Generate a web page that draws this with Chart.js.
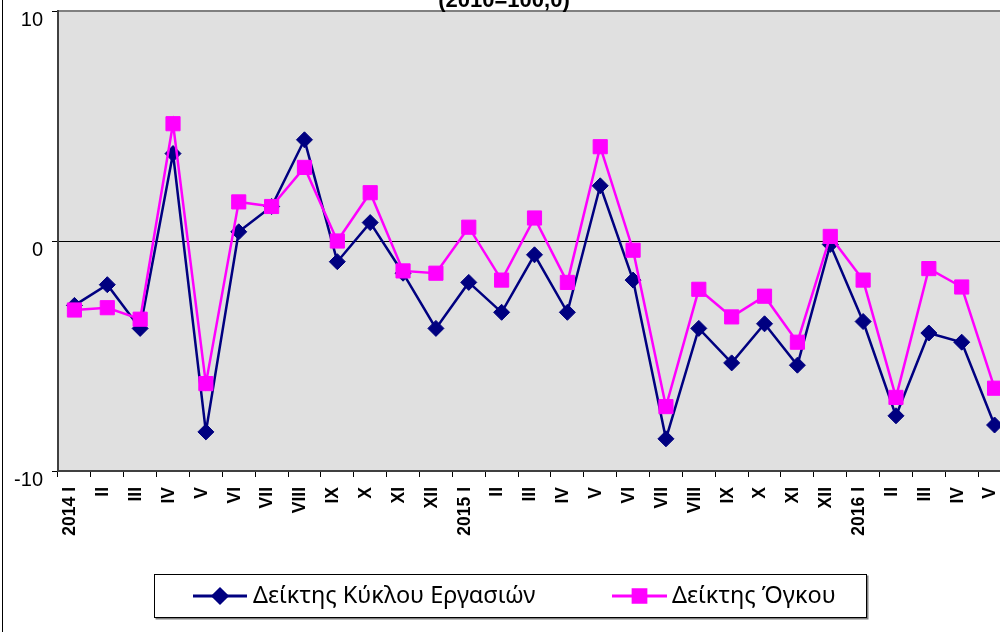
<!DOCTYPE html>
<html>
<head>
<meta charset="utf-8">
<script src="https://cdn.jsdelivr.net/npm/chart.js@4"></script>
<style>
  html, body { margin: 0; padding: 0; background: #fff; overflow: hidden; }
  #wrap { position: absolute; left: 0; top: 0; width: 1022px; height: 632px; }
</style>
</head>
<body>
<div id="wrap"><canvas id="chart" width="1022" height="632"></canvas></div>
<script>
// Month labels (2014 I .. 2016 V)
const months = ['2014 I', 'II', 'III', 'IV', 'V', 'VI', 'VII', 'VIII', 'IX', 'X', 'XI', 'XII',
    '2015 I', 'II', 'III', 'IV', 'V', 'VI', 'VII', 'VIII', 'IX', 'X', 'XI', 'XII',
    '2016 I', 'II', 'III', 'IV', 'V'];

// Δείκτης Κύκλου Εργασιών
const turnover = [-2.8, -1.9, -3.8, 3.8, -8.3, 0.4, 1.5, 4.4, -0.9, 0.8, -1.4, -3.8,
    -1.8, -3.1, -0.6, -3.1, 2.4, -1.7, -8.6, -3.8, -5.3, -3.6, -5.4, -0.15,
    -3.5, -7.6, -4.0, -4.4, -8.0];

// Δείκτης Όγκου
const volume = [-3.0, -2.9, -3.4, 5.1, -6.2, 1.7, 1.5, 3.2, 0.0, 2.1, -1.3, -1.4,
    0.6, -1.7, 1.0, -1.8, 4.1, -0.4, -7.2, -2.1, -3.3, -2.4, -4.4, 0.2,
    -1.7, -6.8, -1.2, -2.0, -6.4];

const yTicks = [-10, 0, 10];
const titleText = '(2010=100,0)';

// Grey plot area, frame and partially visible title
const backdrop = {
    id: 'backdrop',
    beforeDraw(chart) {
        const { ctx, chartArea: a } = chart;
        ctx.save();
        ctx.fillStyle = '#e0e0e0';
        ctx.fillRect(a.left, a.top, a.right - a.left, a.bottom - a.top);
        ctx.strokeStyle = '#808080';
        ctx.lineWidth = 2;
        ctx.beginPath();
        ctx.moveTo(a.left, a.top);
        ctx.lineTo(a.right, a.top);
        ctx.stroke();
        // outer frame line on the left
        ctx.strokeStyle = '#000';
        ctx.lineWidth = 1;
        ctx.beginPath();
        ctx.moveTo(2.5, 0);
        ctx.lineTo(2.5, 632);
        ctx.stroke();
        // title (only its lower part is inside the picture)
        ctx.fillStyle = '#000';
        ctx.font = 'bold 22px "Liberation Sans", Arial, sans-serif';
        ctx.textAlign = 'center';
        ctx.textBaseline = 'alphabetic';
        ctx.fillText(titleText, 504, 7);
        ctx.restore();
    }
};

// Boxed legend with line + marker samples
const boxLegend = {
    id: 'boxLegend',
    afterDraw(chart) {
        const ctx = chart.ctx;
        const box = { x: 154.5, y: 574.5, w: 712, h: 43 };
        ctx.save();
        ctx.fillStyle = '#808080';
        ctx.fillRect(box.x + 1, box.y + 1, box.w + 1, box.h + 1);
        ctx.fillStyle = '#fff';
        ctx.fillRect(box.x, box.y, box.w, box.h);
        ctx.strokeStyle = '#000';
        ctx.lineWidth = 1;
        ctx.strokeRect(box.x, box.y, box.w, box.h);

        const items = [
            { ds: chart.data.datasets[0], x0: 193, x1: 247, tx: 253 },
            { ds: chart.data.datasets[1], x0: 612, x1: 667, tx: 672 }
        ];
        const cy = 596;
        items.forEach(it => {
            ctx.strokeStyle = it.ds.borderColor;
            ctx.lineWidth = 3;
            ctx.beginPath();
            ctx.moveTo(it.x0, cy);
            ctx.lineTo(it.x1, cy);
            ctx.stroke();
            ctx.fillStyle = it.ds.pointBackgroundColor;
            ctx.strokeStyle = it.ds.pointBorderColor;
            Chart.helpers.drawPoint(ctx, {
                pointStyle: it.ds.pointStyle,
                radius: it.ds.pointRadius - 1,
                rotation: 0,
                borderWidth: 1
            }, (it.x0 + it.x1) / 2, cy);
            ctx.fillStyle = '#000';
            ctx.font = '23.5px "Noto Sans", "Open Sans", sans-serif';
            ctx.textAlign = 'left';
            ctx.textBaseline = 'middle';
            ctx.fillText(it.ds.label, it.tx, cy);
        });
        ctx.restore();
    }
};

new Chart(document.getElementById('chart'), {
    type: 'line',
    data: {
        labels: months,
        datasets: [{
            label: 'Δείκτης Κύκλου Εργασιών',
            data: turnover,
            borderColor: '#000080',
            borderWidth: 2.5,
            pointStyle: 'rectRot',
            pointRadius: 8,
            pointBackgroundColor: '#000080',
            pointBorderColor: '#000080',
            pointBorderWidth: 1,
            tension: 0,
            order: 1
        }, {
            label: 'Δείκτης Όγκου',
            data: volume,
            borderColor: '#ff00ff',
            borderWidth: 2.5,
            pointStyle: 'rect',
            pointRadius: 10,
            pointBackgroundColor: '#ff00ff',
            pointBorderColor: '#ff00ff',
            pointBorderWidth: 1,
            tension: 0,
            order: 0
        }]
    },
    options: {
        responsive: false,
        animation: false,
        devicePixelRatio: 1,
        layout: { padding: { top: 11, right: 2, left: 0, bottom: 0 } },
        plugins: {
            legend: { display: false },
            tooltip: { enabled: false }
        },
        scales: {
            x: {
                offset: true,
                grid: {
                    offset: true,
                    drawOnChartArea: false,
                    tickLength: 6,
                    tickColor: '#000',
                    tickWidth: 1
                },
                border: { color: '#404040', width: 2 },
                ticks: {
                    autoSkip: false,
                    minRotation: 90,
                    maxRotation: 90,
                    padding: 10,
                    labelOffset: -4,
                    color: '#000',
                    font: { family: '"Liberation Sans", Arial, sans-serif', size: 17.5, weight: 'bold' }
                },
                afterFit(scale) {
                    scale.height = 161;
                    scale.paddingLeft = 0;
                    scale.paddingRight = 0;
                }
            },
            y: {
                min: -10,
                max: 10,
                afterBuildTicks(scale) { scale.ticks = yTicks.map(v => ({ value: v })); },
                grid: {
                    color: c => (c.tick && c.tick.value === 0 ? '#000' : 'rgba(0,0,0,0)'),
                    lineWidth: 1,
                    tickLength: 6,
                    tickColor: '#000'
                },
                border: { color: '#404040', width: 2 },
                ticks: {
                    padding: 9,
                    labelOffset: 9,
                    color: '#000',
                    font: { family: '"Liberation Sans", Arial, sans-serif', size: 20 }
                },
                afterFit(scale) {
                    scale.width = 58;
                    scale.paddingTop = 0;
                    scale.paddingBottom = 0;
                }
            }
        }
    },
    plugins: [backdrop, boxLegend]
});
</script>
</body>
</html>
